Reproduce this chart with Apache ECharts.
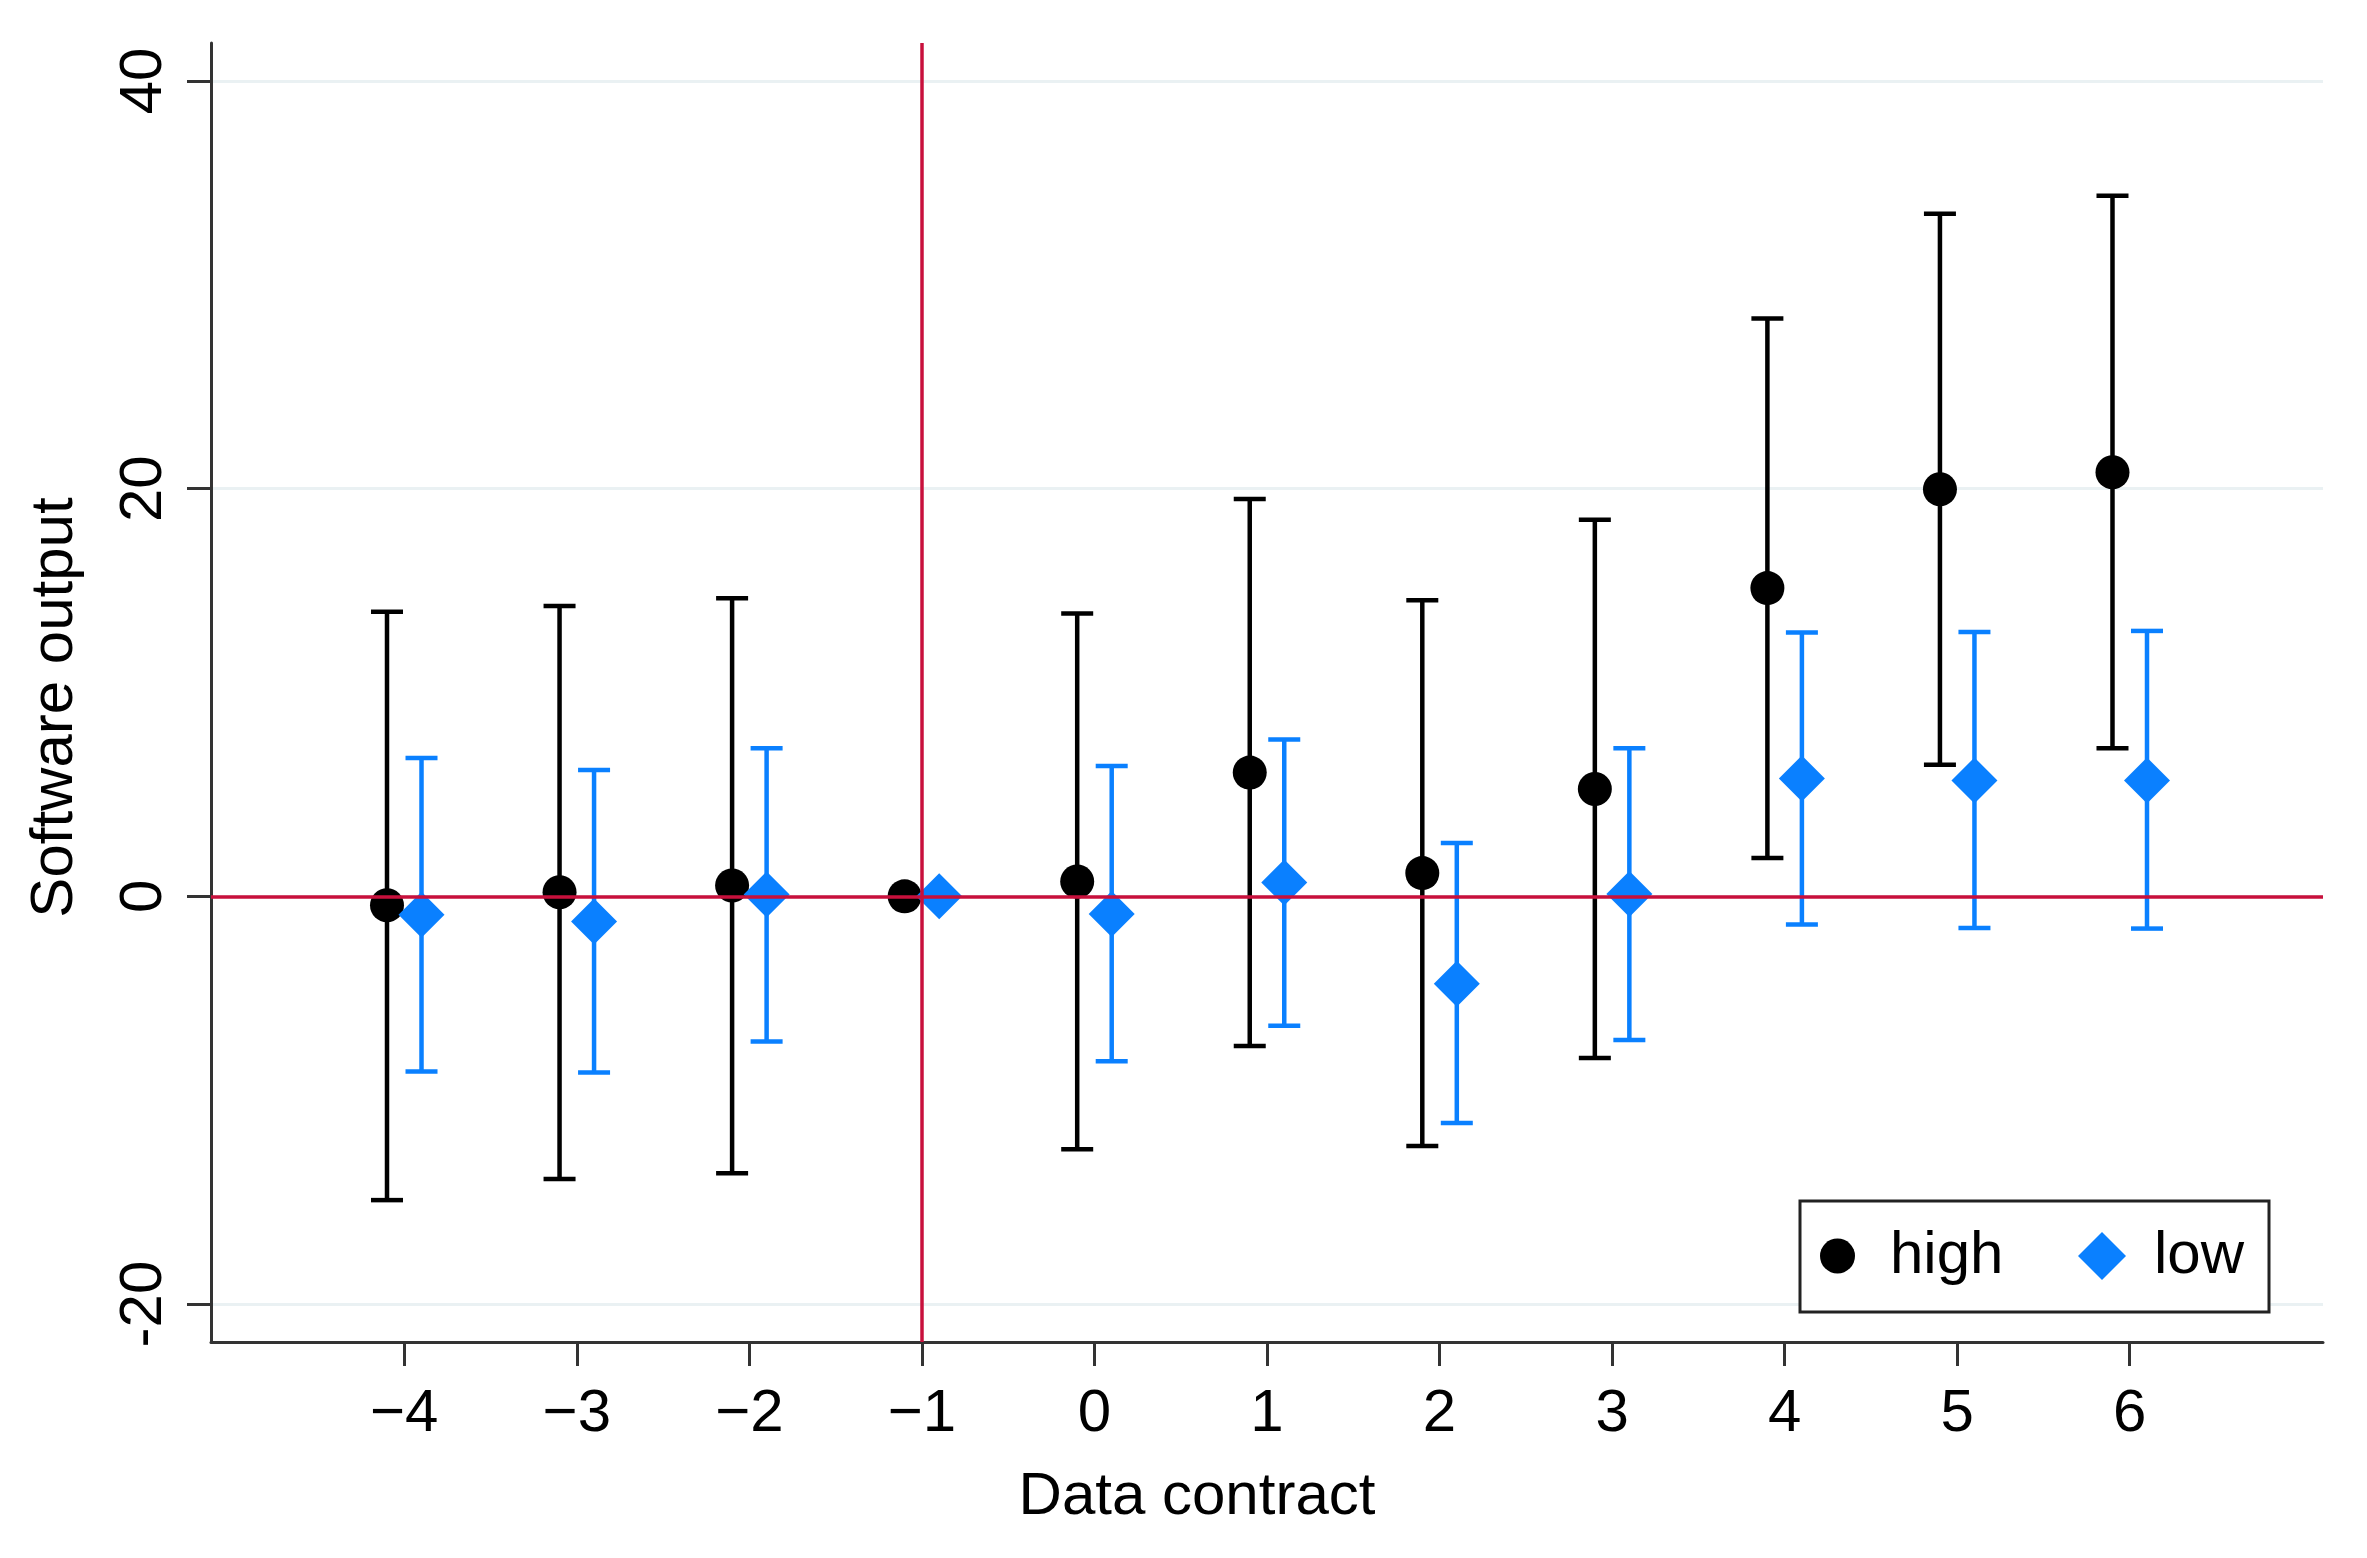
<!DOCTYPE html>
<html>
<head>
<meta charset="utf-8">
<script src="https://cdn.jsdelivr.net/npm/echarts@6/dist/echarts.min.js"></script>
<style>
html,body{margin:0;padding:0;background:#fff;}
#chart{width:2367px;height:1558px;}
</style>
</head>
<body>
<div id="chart"></div>
<script>
// ---- data ----
const periods = [-4, -3, -2, -1, 0, 1, 2, 3, 4, 5, 6];
const highEst   = [-0.44, 0.20, 0.53, 0, 0.73, 6.07, 1.14, 5.27, 15.12, 19.97, 20.80];
const highLower = [-14.90, -13.87, -13.58, null, -12.40, -7.34, -12.25, -7.93, 1.88, 6.46, 7.26];
const highUpper = [13.96, 14.24, 14.62, null, 13.87, 19.49, 14.53, 18.48, 28.34, 33.49, 34.37];
const lowEst    = [-0.90, -1.23, 0.09, 0, -0.86, 0.68, -4.29, 0.11, 5.78, 5.68, 5.68];
const lowLower  = [-8.59, -8.64, -7.12, null, -8.09, -6.35, -11.12, -7.05, -1.38, -1.55, -1.58];
const lowUpper  = [6.79, 6.20, 7.27, null, 6.40, 7.69, 2.62, 7.27, 12.94, 12.97, 13.02];
const groupOffset = 0.1;

const xTickValues = [-4, -3, -2, -1, 0, 1, 2, 3, 4, 5, 6];
const xTickLabels = ['\u22124', '\u22123', '\u22122', '\u22121', '0', '1', '2', '3', '4', '5', '6'];
const yTickValues = [-20, 0, 20, 40];
const yTickLabels = ['-20', '0', '20', '40'];
const refX = -1;
const refY = 0;

// ---- styles ----
const FONT = 'Liberation Sans, Arial, Helvetica, sans-serif';
const BLACK = '#000000';
const BLUE = '#0A80FF';
const RED = '#C8103C';
const AXIS = '#333333';

function ciData(lower, upper, shift) {
  const out = [];
  periods.forEach((p, i) => {
    if (lower[i] != null && upper[i] != null) out.push([p + shift, lower[i], upper[i]]);
  });
  return out;
}
function ptData(est, shift) {
  return periods.map((p, i) => [p + shift, est[i]]);
}
function makeCI(color) {
  return function (params, api) {
    const x = api.value(0), lo = api.value(1), hi = api.value(2);
    const t = api.coord([x, hi]);
    const b = api.coord([x, lo]);
    const hw = 16;
    const st = { stroke: color, lineWidth: 4.5, fill: null };
    return {
      type: 'group',
      children: [
        { type: 'line', shape: { x1: t[0], y1: t[1], x2: b[0], y2: b[1] }, style: st },
        { type: 'line', shape: { x1: t[0] - hw, y1: t[1], x2: t[0] + hw, y2: t[1] }, style: st },
        { type: 'line', shape: { x1: b[0] - hw, y1: b[1], x2: b[0] + hw, y2: b[1] }, style: st }
      ]
    };
  };
}

const chart = echarts.init(document.getElementById('chart'), null, { renderer: 'canvas' });

const option = {
  backgroundColor: '#ffffff',
  animation: false,
  textStyle: { fontFamily: FONT },
  grid: { left: 211, top: 43, right: 44, bottom: 216, containLabel: false, outerBoundsMode: 'none' },
  xAxis: {
    type: 'value',
    min: -5.12, max: 7.12,
    name: 'Data contract',
    nameLocation: 'middle',
    nameGap: 125,
    nameTextStyle: { fontSize: 60, color: BLACK, fontFamily: FONT, lineHeight: 60, padding: [0, 140, 0, 0] },
    axisLine: { show: true, onZero: false, lineStyle: { color: AXIS, width: 3 } },
    axisTick: { show: true, customValues: xTickValues, length: 24, lineStyle: { color: AXIS, width: 3 } },
    axisLabel: {
      customValues: xTickValues,
      formatter: v => { const k = xTickValues.indexOf(v); return k >= 0 ? xTickLabels[k] : ''; },
      fontSize: 60, lineHeight: 60, color: BLACK, fontFamily: FONT, margin: 42
    },
    splitLine: { show: false }
  },
  yAxis: {
    type: 'value',
    min: -21.86, max: 41.86,
    name: 'Software output',
    nameLocation: 'middle',
    nameGap: 126,
    nameTextStyle: { fontSize: 60, color: BLACK, fontFamily: FONT, lineHeight: 60, padding: [0, 30, 0, 0] },
    axisLine: { show: true, onZero: false, lineStyle: { color: AXIS, width: 3 } },
    axisTick: { show: true, customValues: yTickValues, length: 24, lineStyle: { color: AXIS, width: 3 } },
    axisLabel: {
      customValues: yTickValues,
      rotate: 90,
      formatter: v => { const k = yTickValues.indexOf(v); return k >= 0 ? yTickLabels[k] : ''; },
      fontSize: 60, lineHeight: 60, color: BLACK, fontFamily: FONT, margin: 37
    },
    splitLine: { show: true, lineStyle: { color: '#EAF1F3', width: 3 } }
  },
  legend: [
    {
      data: [{ name: 'high', icon: 'circle' }],
      left: 1820, top: 1226, padding: 0,
      itemWidth: 35, itemHeight: 35,
      selectedMode: false, z: 5,
      textStyle: { fontSize: 60, lineHeight: 60, color: BLACK, fontFamily: FONT, padding: [0, 0, 0, 30] }
    },
    {
      data: [{ name: 'low', icon: 'diamond' }],
      left: 2078, top: 1226, padding: 0,
      itemWidth: 48, itemHeight: 48,
      selectedMode: false, z: 5,
      textStyle: { fontSize: 60, lineHeight: 60, color: BLACK, fontFamily: FONT, padding: [0, 0, 0, 23] }
    }
  ],
  graphic: [
    {
      type: 'rect', z: 4,
      shape: { x: 1800, y: 1201, width: 469, height: 111 },
      style: { fill: '#ffffff', stroke: '#222222', lineWidth: 3 }
    }
  ],
  series: [
    {
      name: 'refs', type: 'line', data: [], z: 1, silent: true,
      markLine: {
        silent: true, symbol: 'none', animation: false,
        label: { show: false },
        lineStyle: { color: RED, width: 3.5, type: 'solid' },
        emphasis: { disabled: true },
        data: [{ xAxis: refX }, { yAxis: refY }]
      }
    },
    {
      name: 'high CI', type: 'custom', z: 2, silent: true,
      renderItem: makeCI(BLACK),
      encode: { x: 0, y: [1, 2] },
      data: ciData(highLower, highUpper, -groupOffset)
    },
    {
      name: 'low CI', type: 'custom', z: 2, silent: true,
      renderItem: makeCI(BLUE),
      encode: { x: 0, y: [1, 2] },
      data: ciData(lowLower, lowUpper, groupOffset)
    },
    {
      name: 'high', type: 'scatter', z: 3, symbol: 'circle', symbolSize: 34,
      itemStyle: { color: BLACK, opacity: 1 },
      data: ptData(highEst, -groupOffset)
    },
    {
      name: 'low', type: 'scatter', z: 3, symbol: 'diamond', symbolSize: 46,
      itemStyle: { color: BLUE, opacity: 1 },
      data: ptData(lowEst, groupOffset)
    }
  ]
};
chart.setOption(option);
</script>
</body>
</html>
